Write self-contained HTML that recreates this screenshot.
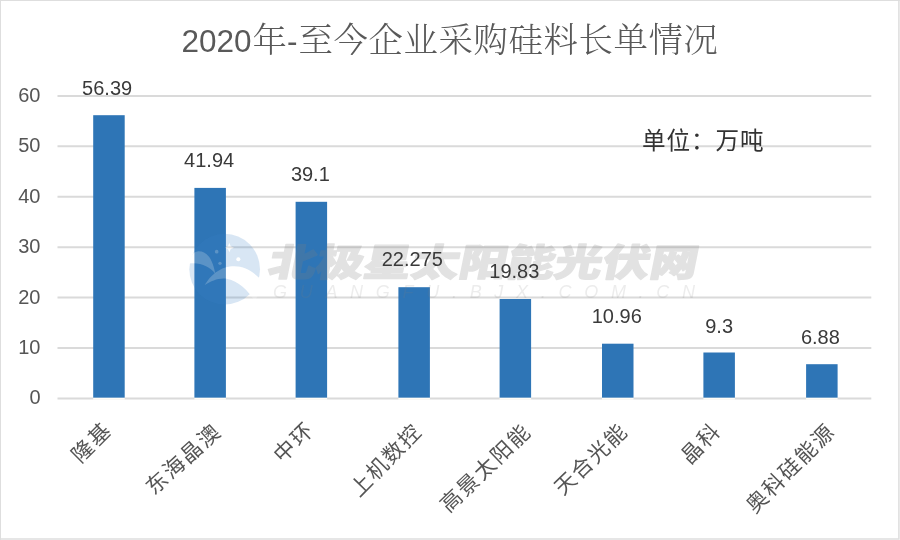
<!DOCTYPE html>
<html lang="zh-CN"><head><meta charset="utf-8"><title>2020年-至今企业采购硅料长单情况</title>
<style>
html,body{margin:0;padding:0;background:#fff;}
body{width:900px;height:540px;overflow:hidden;}
svg{display:block;}
.ax{font-family:"Liberation Sans","Noto Sans CJK SC",sans-serif;font-size:20px;fill:#555;}
.dl{font-family:"Liberation Sans","Noto Sans CJK SC",sans-serif;font-size:20px;fill:#3a3a3a;}
.cat{font-family:"Liberation Sans","Noto Sans CJK SC",sans-serif;font-size:21.33px;fill:#555;}
.title{font-family:"Liberation Sans","Noto Serif CJK SC",serif;font-size:34.4px;letter-spacing:0.6px;fill:#595959;font-weight:300;}
.title .n{font-size:31.5px;letter-spacing:0;font-weight:400;}
.unit{font-family:"Liberation Sans","Noto Sans CJK SC",sans-serif;font-size:23.6px;letter-spacing:0.95px;fill:#333;}
</style></head><body>
<svg width="900" height="540" viewBox="0 0 900 540">
<rect x="0" y="0" width="900" height="540" fill="#fff"/>
<path d="M0 0.4H900M0.4 0V540" fill="none" stroke="#dedede" stroke-width="1.2"/><path d="M0 538.9H899.6M898.9 0V539.6" fill="none" stroke="#dedede" stroke-width="1.5"/>

<line x1="57.5" y1="398.45" x2="871.3" y2="398.45" stroke="#dadada" stroke-width="2"/>
<line x1="57.5" y1="348.02" x2="871.3" y2="348.02" stroke="#dadada" stroke-width="2"/>
<line x1="57.5" y1="297.60" x2="871.3" y2="297.60" stroke="#dadada" stroke-width="2"/>
<line x1="57.5" y1="247.18" x2="871.3" y2="247.18" stroke="#dadada" stroke-width="2"/>
<line x1="57.5" y1="196.75" x2="871.3" y2="196.75" stroke="#dadada" stroke-width="2"/>
<line x1="57.5" y1="146.33" x2="871.3" y2="146.33" stroke="#dadada" stroke-width="2"/>
<line x1="57.5" y1="95.90" x2="871.3" y2="95.90" stroke="#dadada" stroke-width="2"/>
<rect x="93.20" y="397.5" width="31.5" height="2.2" fill="#fffdf8"/>
<rect x="93.20" y="115.20" width="31.5" height="282.45" fill="#2e75b6"/>
<rect x="194.40" y="397.5" width="31.5" height="2.2" fill="#fffdf8"/>
<rect x="194.40" y="187.90" width="31.5" height="209.75" fill="#2e75b6"/>
<rect x="295.60" y="397.5" width="31.5" height="2.2" fill="#fffdf8"/>
<rect x="295.60" y="201.80" width="31.5" height="195.85" fill="#2e75b6"/>
<rect x="398.40" y="397.5" width="31.5" height="2.2" fill="#fffdf8"/>
<rect x="398.40" y="287.20" width="31.5" height="110.45" fill="#2e75b6"/>
<rect x="499.60" y="397.5" width="31.5" height="2.2" fill="#fffdf8"/>
<rect x="499.60" y="299.00" width="31.5" height="98.65" fill="#2e75b6"/>
<rect x="602.00" y="397.5" width="31.5" height="2.2" fill="#fffdf8"/>
<rect x="602.00" y="343.70" width="31.5" height="53.95" fill="#2e75b6"/>
<rect x="703.40" y="397.5" width="31.5" height="2.2" fill="#fffdf8"/>
<rect x="703.40" y="352.50" width="31.5" height="45.15" fill="#2e75b6"/>
<rect x="806.10" y="397.5" width="31.5" height="2.2" fill="#fffdf8"/>
<rect x="806.10" y="364.20" width="31.5" height="33.45" fill="#2e75b6"/>
<defs><mask id="lm" maskUnits="userSpaceOnUse" x="0" y="0" width="540" height="540">
<rect x="0" y="0" width="540" height="540" fill="#fff"/>
<g fill="#000"><path d="M52 232 C60 190 80 160 110 158 C160 156 195 200 212 292 C180 250 120 222 52 232 Z"/>
<path d="M148 360 C185 300 235 258 300 249 C380 240 440 275 500 345 L450 460 C410 390 345 332 280 322 C230 316 190 335 148 360 Z"/>
<circle cx="220" cy="160" r="11"/><circle cx="240" cy="230" r="10"/><path d="M296 108 L304 128 L324 136 L304 144 L296 164 L288 144 L268 136 L288 128 Z"/><circle cx="350" cy="206" r="12"/></g></mask></defs>
<g id="wm">
<g transform="translate(180,225) scale(0.16667)">
<circle cx="268" cy="265" r="212" fill="#3c82c8" fill-opacity="0.2" mask="url(#lm)"/>
<g fill="#fff" fill-opacity="0.22"><path d="M52 232 C60 190 80 160 110 158 C160 156 195 200 212 292 C180 250 120 222 52 232 Z"/>
<path d="M148 360 C185 300 235 258 300 249 C380 240 440 275 500 345 L450 460 C410 390 345 332 280 322 C230 316 190 335 148 360 Z"/>
<circle cx="220" cy="160" r="11"/><circle cx="240" cy="230" r="10"/><path d="M296 108 L304 128 L324 136 L304 144 L296 164 L288 144 L268 136 L288 128 Z"/><circle cx="350" cy="206" r="12"/></g>
</g>
<g opacity="0.22"><text transform="translate(266.5,275.8) scale(1.272,1) skewX(-9)" font-family="'Liberation Sans','Noto Sans CJK SC',sans-serif" font-weight="900" font-size="37.5" fill="#7f7f7f" stroke="#7f7f7f" stroke-width="1.3" stroke-linejoin="round">北极星太阳能光伏网</text></g>
<text x="273" y="298.3" font-family="'Liberation Sans',sans-serif" font-style="italic" font-size="18" fill="#7f7f7f" fill-opacity="0.15" textLength="422" lengthAdjust="spacing">GUANGFU.BJX.COM.CN</text>
</g>
<text class="dl" x="107.15" y="94.60" text-anchor="middle">56.39</text>
<text class="cat" text-anchor="end" letter-spacing="2" transform="translate(113.41,430.89) rotate(-45)">隆基</text>
<text class="dl" x="209.15" y="167.20" text-anchor="middle">41.94</text>
<text class="cat" text-anchor="end" letter-spacing="1.9" transform="translate(222.84,433.26) rotate(-42.2)">东海晶澳</text>
<text class="dl" x="310.35" y="180.60" text-anchor="middle">39.1</text>
<text class="cat" text-anchor="end" letter-spacing="2.4" transform="translate(316.20,430.60) rotate(-44.5)">中环</text>
<text class="dl" x="412.35" y="266.20" text-anchor="middle">22.275</text>
<text class="cat" text-anchor="end" letter-spacing="1.5" transform="translate(423.36,432.74) rotate(-45.5)">上机数控</text>
<text class="dl" x="514.35" y="277.90" text-anchor="middle">19.83</text>
<text class="cat" text-anchor="end" letter-spacing="2.0" transform="translate(532.91,432.79) rotate(-43.8)">高景太阳能</text>
<text class="dl" x="616.75" y="323.20" text-anchor="middle">10.96</text>
<text class="cat" text-anchor="end" letter-spacing="1.7" transform="translate(629.40,432.60) rotate(-43.8)">天合光能</text>
<text class="dl" x="719.15" y="332.60" text-anchor="middle">9.3</text>
<text class="cat" text-anchor="end" letter-spacing="2" transform="translate(722.41,431.59) rotate(-46)">晶科</text>
<text class="dl" x="820.35" y="343.80" text-anchor="middle">6.88</text>
<text class="cat" text-anchor="end" letter-spacing="1.8" transform="translate(836.67,432.53) rotate(-45)">奥科硅能源</text>
<text class="ax" x="40.5" y="404.45" text-anchor="end">0</text>
<text class="ax" x="40.5" y="354.02" text-anchor="end">10</text>
<text class="ax" x="40.5" y="303.60" text-anchor="end">20</text>
<text class="ax" x="40.5" y="253.18" text-anchor="end">30</text>
<text class="ax" x="40.5" y="202.75" text-anchor="end">40</text>
<text class="ax" x="40.5" y="152.33" text-anchor="end">50</text>
<text class="ax" x="40.5" y="101.90" text-anchor="end">60</text>
<text class="title" y="52"><tspan class="n" x="181.5">2020</tspan><tspan x="252.5">年</tspan><tspan class="n" x="287">-</tspan><tspan x="298.5">至今企业采购硅料长单情况</tspan></text>
<text class="unit" x="641.9" y="148.5">单位：万吨</text>
</svg></body></html>
